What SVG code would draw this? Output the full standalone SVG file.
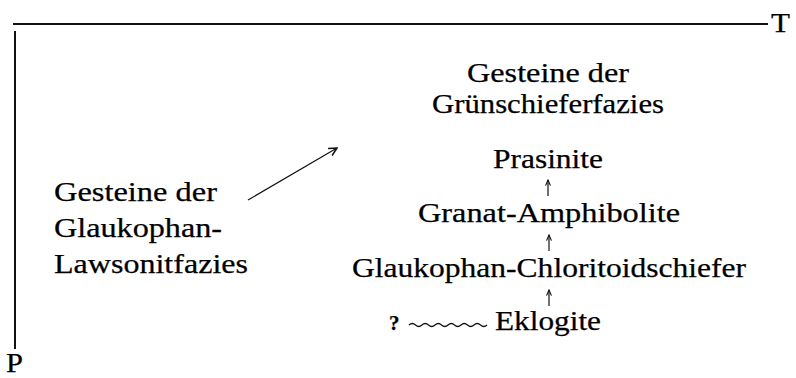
<svg xmlns="http://www.w3.org/2000/svg" width="796" height="378" viewBox="0 0 796 378">
<style>
text{font-family:"Liberation Serif","Times New Roman",serif;font-size:27px;fill:#000;stroke:#000;stroke-width:0.25}
.ax{stroke:#111;stroke-width:2;fill:none}
.c{stroke:#111;stroke-width:1.2;fill:none}
.m{text-anchor:middle}
</style>
<defs>
<marker id="ah" viewBox="0 0 10 10" refX="9" refY="5" markerWidth="10" markerHeight="10" markerUnits="userSpaceOnUse" orient="auto">
<path d="M1,1 L9,5 L1,9" fill="none" stroke="#111" stroke-width="1.5"/>
</marker>
<marker id="sh" viewBox="0 0 10 10" refX="9" refY="5" markerWidth="7" markerHeight="7" markerUnits="userSpaceOnUse" orient="auto">
<path d="M1,1.5 L9,5 L1,8.5" fill="none" stroke="#111" stroke-width="1.6"/>
</marker>
</defs>
<g id="axes">
<line class="ax" x1="13" y1="24" x2="768" y2="24"/>
<line class="ax" x1="15" y1="31" x2="15" y2="349"/>
<text x="771" y="32" textLength="19" lengthAdjust="spacingAndGlyphs">T</text>
<text x="6" y="372" textLength="17" lengthAdjust="spacingAndGlyphs">P</text>
</g>
<g id="glaukophan-lawsonit">
<text x="54" y="201" textLength="163" lengthAdjust="spacingAndGlyphs">Gesteine der</text>
<text x="54" y="237" textLength="168" lengthAdjust="spacingAndGlyphs">Glaukophan-</text>
<text x="54" y="273" textLength="194" lengthAdjust="spacingAndGlyphs">Lawsonitfazies</text>
</g>
<g id="gruenschiefer">
<text class="m" x="548" y="82" textLength="162" lengthAdjust="spacingAndGlyphs">Gesteine der</text>
<text class="m" x="548" y="113" textLength="232" lengthAdjust="spacingAndGlyphs">Grünschieferfazies</text>
</g>
<g id="prasinite"><text class="m" x="548" y="168" textLength="110" lengthAdjust="spacingAndGlyphs">Prasinite</text></g>
<g id="granat"><text class="m" x="549" y="222" textLength="262" lengthAdjust="spacingAndGlyphs">Granat-Amphibolite</text></g>
<g id="chloritoid"><text class="m" x="549" y="277" textLength="394" lengthAdjust="spacingAndGlyphs">Glaukophan-Chloritoidschiefer</text></g>
<g id="eklogite"><text x="495" y="330" textLength="106" lengthAdjust="spacingAndGlyphs">Eklogite</text></g>
<g id="unknown"><text x="389" y="330" style="font-size:21px;font-weight:bold">?</text></g>
<g id="connectors">
<line class="c" x1="248" y1="200" x2="337" y2="148" marker-end="url(#ah)"/>
<line class="c" x1="548" y1="196" x2="548" y2="180" marker-end="url(#sh)"/>
<line class="c" x1="549" y1="251" x2="549" y2="235" marker-end="url(#sh)"/>
<line class="c" x1="549" y1="306" x2="549" y2="290" marker-end="url(#sh)"/>
<path class="c" d="M409,325 q3.25,-3 6.5,0 t6.5,0 t6.5,0 t6.5,0 t6.5,0 t6.5,0 t6.5,0 t6.5,0 t6.5,0 t6.5,0 t6.5,0 t6.5,0" stroke-width="1"/>
</g>
</svg>
